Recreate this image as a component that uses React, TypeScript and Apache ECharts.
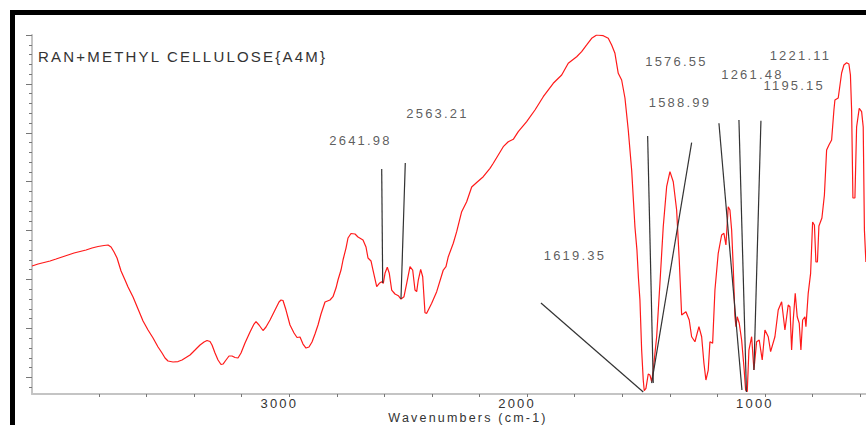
import React, { useEffect, useRef } from "react";
import * as echarts from "echarts";

const TITLE = "RAN+METHYL CELLULOSE{A4M}";
const X_NAME = "Wavenumbers (cm-1)";

const WAVENUMBERS = [
  4081.8, 4056.5, 4031.3, 4006.1, 3980.9, 3955.6, 3930.4, 3905.2, 3880.0, 3854.7,
  3829.5, 3804.3, 3779.1, 3762.2, 3749.6, 3737.0, 3724.4, 3707.6, 3690.8, 3678.2,
  3657.1, 3636.1, 3615.1, 3594.1, 3573.0, 3552.0, 3535.2, 3522.6, 3510.0, 3489.0,
  3467.9, 3451.1, 3434.3, 3417.5, 3396.5, 3375.4, 3358.6, 3346.0, 3333.4, 3325.0,
  3312.4, 3299.8, 3287.2, 3278.7, 3266.1, 3253.5, 3240.9, 3228.3, 3215.7, 3203.1,
  3186.3, 3165.2, 3148.4, 3140.0, 3127.4, 3110.6, 3098.0, 3081.1, 3060.1, 3043.3,
  3034.9, 3026.5, 3013.9, 2997.1, 2980.2, 2967.6, 2955.0, 2942.4, 2929.8, 2917.2,
  2904.6, 2892.0, 2879.3, 2866.7, 2849.9, 2828.9, 2816.3, 2803.7, 2795.3, 2782.6,
  2774.2, 2761.6, 2753.2, 2740.6, 2723.8, 2711.2, 2690.1, 2677.5, 2669.1, 2656.5,
  2648.1, 2632.5, 2621.6, 2611.5, 2604.8, 2597.6, 2588.0, 2579.6, 2569.5, 2555.6,
  2541.7, 2530.4, 2517.8, 2506.4, 2492.5, 2481.2, 2471.5, 2464.4, 2457.6, 2447.6,
  2439.1, 2429.5, 2422.3, 2401.3, 2380.3, 2352.5, 2341.2, 2331.5, 2310.5, 2296.2,
  2275.2, 2254.2, 2233.1, 2212.1, 2184.4, 2156.2, 2142.3, 2121.3, 2100.3, 2079.3,
  2058.2, 2037.2, 2001.9, 1967.0, 1932.1, 1890.1, 1854.7, 1827.0, 1791.7, 1770.7,
  1749.6, 1728.6, 1707.6, 1679.8, 1658.8, 1644.5, 1630.7, 1616.8, 1602.5, 1588.6,
  1574.7, 1560.4, 1546.6, 1538.2, 1531.9, 1525.6, 1518.4, 1511.7, 1507.5, 1500.3,
  1490.7, 1483.5, 1476.4, 1469.6, 1455.3, 1441.5, 1427.6, 1413.3, 1399.4, 1385.5,
  1371.3, 1360.3, 1350.2, 1332.2, 1318.3, 1308.2, 1294.3, 1277.5, 1266.1, 1256.5,
  1248.1, 1238.4, 1231.2, 1219.9, 1210.2, 1196.4, 1182.1, 1172.4, 1164.0, 1154.3,
  1147.2, 1140.0, 1133.3, 1126.1, 1121.9, 1116.5, 1108.1, 1098.0, 1088.3, 1081.2,
  1074.4, 1067.3, 1055.9, 1046.3, 1034.9, 1024.0, 1011.4, 1000.0, 986.1, 976.1,
  958.0, 944.1, 929.8, 915.9, 902.1, 894.9, 887.8, 881.0, 872.6, 864.2,
  855.8, 848.7, 841.5, 831.8, 827.6, 818.0, 807.9, 799.5, 791.9, 785.6,
  779.3, 773.0, 760.4, 749.9, 740.6, 730.9, 719.6, 709.9, 705.7, 691.8,
  677.5, 667.9, 656.5, 646.9, 640.5, 635.5, 630.0, 621.6, 614.5, 603.5,
  593.4, 586.7, 581.7, 575.4,
];

const SIGNAL = [
  32.76, 33.17, 33.48, 33.79, 34.19, 34.6, 35.01, 35.42, 35.73, 36.03,
  36.44, 36.75, 36.96, 37.06, 36.65, 35.63, 34.4, 31.74, 29.9, 28.47,
  26.42, 23.97, 21.52, 19.67, 18.04, 16.2, 14.97, 13.95, 13.34, 13.13,
  13.23, 13.54, 14.05, 14.56, 15.58, 16.61, 17.22, 17.53, 17.32, 16.61,
  14.97, 13.54, 12.62, 12.72, 13.54, 14.36, 14.36, 14.05, 13.95, 14.97,
  17.02, 19.27, 20.9, 21.41, 20.7, 19.57, 20.29, 21.72, 23.76, 25.4,
  25.81, 25.71, 23.76, 20.7, 19.06, 18.14, 18.24, 16.81, 15.99, 16.2,
  17.22, 18.86, 20.7, 22.95, 25.4, 25.81, 26.49, 28.26, 29.9, 31.94,
  33.99, 36.44, 38.49, 39.41, 39.31, 38.69, 38.08, 36.65, 34.4, 33.79,
  31.94, 28.53, 29.23, 29.55, 29.23, 31.27, 32.5, 31.27, 27.85, 27.04,
  26.69, 26.01, 26.49, 29.23, 32.62, 31.94, 27.85, 27.51, 29.9, 32.09,
  30.57, 23.21, 23.09, 25.14, 27.51, 31.94, 32.62, 34.66, 37.41, 39.78,
  43.87, 45.91, 48.92, 49.84, 51.02, 52.74, 53.77, 55.46, 57.16, 58.18,
  58.67, 60.23, 62.27, 64.66, 67.38, 70.13, 71.82, 74.22, 75.56, 76.59,
  77.96, 79.33, 80.0, 79.86, 79.33, 77.96, 76.26, 72.17, 70.8, 67.12,
  60.57, 52.39, 40.74, 36.03, 30.31, 25.81, 15.58, 9.45, 7.26, 7.75,
  10.68, 10.47, 9.1, 11.49, 18.3, 29.23, 40.8, 48.98, 52.05, 50.0,
  44.21, 33.99, 22.74, 23.42, 21.72, 18.3, 17.28, 20.35, 18.3, 12.87,
  9.45, 11.49, 17.28, 16.96, 27.85, 35.36, 39.1, 39.45, 37.06, 44.89,
  44.21, 40.12, 32.62, 22.39, 20.35, 22.39, 21.05, 17.63, 12.17, 7.4,
  7.06, 15.58, 18.3, 11.49, 17.28, 17.63, 13.54, 19.67, 18.3, 15.24,
  18.3, 23.76, 25.46, 19.67, 24.79, 24.44, 15.58, 21.72, 27.18, 22.39,
  21.05, 15.58, 21.72, 22.39, 20.35, 27.18, 31.27, 41.76, 41.15, 33.58,
  33.58, 40.94, 42.58, 47.28, 56.48, 57.51, 58.53, 64.66, 66.71, 67.12,
  72.23, 73.87, 74.34, 74.07, 71.82, 64.66, 46.67, 46.67, 61.19, 65.01,
  64.32, 61.19, 40.12, 33.58,
];

const X_LABEL_VALUES = [3000, 2000, 1000];
const X_TICK_VALUES = [
  3800, 3600, 3400, 3200, 3000, 2800, 2600, 2400, 2200, 2000, 1800, 1600, 1400, 1200, 1000, 800, 600,
];
const Y_MINOR_TICKS = [
  8, 10, 12, 14, 16, 18, 20, 22, 24, 26, 28, 30, 32, 34, 36, 38, 40, 42, 44, 46, 48, 50, 52, 54, 56,
  58, 60, 62, 64, 66, 68, 70, 72, 74, 76, 78, 80,
];
const Y_MAJOR_TICKS = [10, 20, 30, 40, 50, 60, 70, 80];

const PEAK_LABELS = ["2641.98", "2563.21", "1619.35", "1576.55", "1588.99", "1261.48", "1195.15", "1221.11"];
const PEAK_LABEL_WN = [2700.7, 2376.9, 1798.8, 1372.1, 1357.4, 1052.6, 876.8, 850.8];
const PEAK_LABEL_T = [58.38, 63.99, 34.87, 74.54, 66.24, 72.02, 69.63, 75.77];

const LEADER_FROM_WN = [2611.5, 2512.3, 1941.8, 1493.2, 1308.2, 1193.4, 1109.3, 1016.8];
const LEADER_FROM_T = [52.6, 53.82, 25.19, 59.35, 57.98, 61.94, 62.62, 62.47];
const LEADER_TO_WN = [2607.3, 2530.4, 1511.7, 1469.6, 1476.4, 1096.7, 1077.8, 1046.3];
const LEADER_TO_T = [29.28, 26.01, 6.99, 8.83, 8.83, 7.4, 6.99, 11.49];

const FONT = '"Liberation Sans", Arial, sans-serif';
const TEXT_COLOR = "#333";

export default function App() {
  const ref = useRef<HTMLDivElement>(null);

  useEffect(() => {
    if (!ref.current) return;
    const chart = echarts.init(ref.current, undefined, { renderer: "svg" });

    const spectrum = WAVENUMBERS.map((w, i) => [w, SIGNAL[i]]);
    const leaders = LEADER_FROM_WN.map((w, i) => ({
      coords: [
        [w, LEADER_FROM_T[i]],
        [LEADER_TO_WN[i], LEADER_TO_T[i]],
      ],
    }));
    const labels = PEAK_LABELS.map((name, i) => ({
      name,
      value: [PEAK_LABEL_WN[i], PEAK_LABEL_T[i]],
    }));

    const yMin = 6.59;
    const yMax = 80;

    chart.setOption({
      animation: false,
      backgroundColor: "#ffffff",
      title: {
        text: TITLE,
        left: 38,
        top: 49,
        padding: 0,
        textStyle: { fontFamily: FONT, fontSize: 15, fontWeight: "normal", color: TEXT_COLOR },
      },
      grid: { left: 32, right: 0, top: 35, bottom: 31, containLabel: false },
      xAxis: {
        type: "value",
        inverse: true,
        min: 575,
        max: 4082,
        axisLine: { show: true, onZero: false, lineStyle: { color: "#c4c4c4", width: 2 } },
        axisTick: { show: true, customValues: X_TICK_VALUES, length: 3, lineStyle: { color: "#777", width: 1 } },
        axisLabel: {
          show: true,
          customValues: X_LABEL_VALUES,
          formatter: (v: number) => String(v),
          margin: 3,
          fontFamily: FONT,
          fontSize: 13,
          lineHeight: 13,
          color: TEXT_COLOR,
          padding: [0, 20, 0, 0],
        },
        splitLine: { show: false },
      },
      yAxis: [
        {
          type: "value",
          min: yMin,
          max: yMax,
          axisLine: { show: true, onZero: false, lineStyle: { color: "#c4c4c4", width: 2 } },
          axisTick: { show: true, customValues: Y_MINOR_TICKS, length: 3, lineStyle: { color: "#777", width: 1 } },
          axisLabel: { show: false },
          splitLine: { show: false },
        },
        {
          type: "value",
          position: "left",
          min: yMin,
          max: yMax,
          axisLine: { show: false, onZero: false },
          axisTick: { show: true, customValues: Y_MAJOR_TICKS, length: 6, lineStyle: { color: "#777", width: 1 } },
          axisLabel: { show: false },
          splitLine: { show: false },
        },
      ],
      graphic: [
        { type: "rect", shape: { x: 10, y: 10, width: 856, height: 5 }, style: { fill: "#000" }, silent: true },
        { type: "rect", shape: { x: 10, y: 10, width: 5, height: 415 }, style: { fill: "#000" }, silent: true },
        {
          type: "text",
          x: 468,
          y: 418,
          silent: true,
          style: {
            text: X_NAME,
            fill: TEXT_COLOR,
            fontFamily: FONT,
            fontSize: 12.5,
            lineHeight: 12.5,
            align: "center",
            verticalAlign: "middle",
            textAlign: "center",
            textVerticalAlign: "middle",
          },
        },
      ],
      series: [
        {
          type: "line",
          data: spectrum,
          symbol: "none",
          silent: true,
          lineStyle: { color: "#ff1a1a", width: 1.2 },
          z: 3,
        },
        {
          type: "lines",
          coordinateSystem: "cartesian2d",
          silent: true,
          data: leaders,
          lineStyle: { color: "#333", width: 1.2, opacity: 1, curveness: 0 },
          z: 4,
        },
        {
          type: "scatter",
          silent: true,
          data: labels,
          symbolSize: 1,
          itemStyle: { color: "rgba(0,0,0,0)" },
          label: {
            show: true,
            position: "inside",
            formatter: "{b}",
            fontFamily: FONT,
            fontSize: 13,
            color: TEXT_COLOR,
          },
          z: 5,
        },
      ],
    });

    return () => chart.dispose();
  }, []);

  return (
    <>
      <style>{`#ir-chart text { letter-spacing: 2.2px; }`}</style>
      <div
        id="ir-chart"
        ref={ref}
        style={{ position: "absolute", left: 0, top: 0, width: 866, height: 425 }}
      />
    </>
  );
}
